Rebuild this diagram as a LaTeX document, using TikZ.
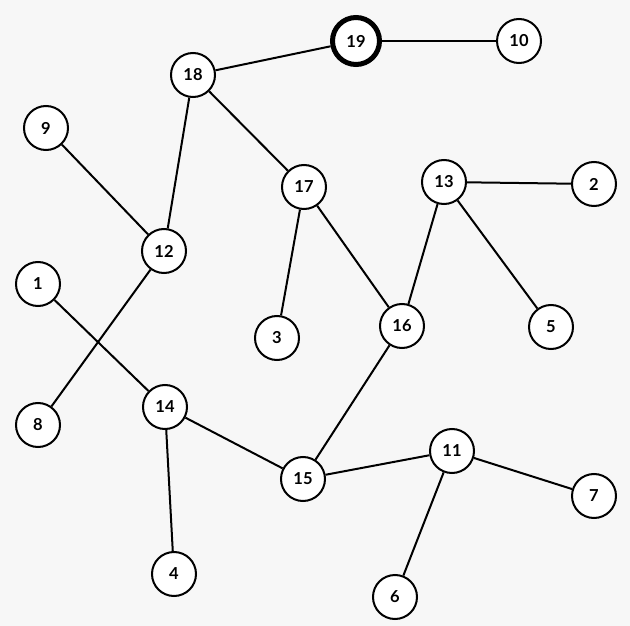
\documentclass[tikz,border=0pt]{standalone}
\usepackage{fontspec}
\setmainfont{Lato}
\begin{document}
\begin{tikzpicture}[x=1pt,y=-1pt,
  vert/.style={circle,draw=black,fill=white,line width=2pt,minimum size=44pt,inner sep=0pt,font=\fontsize{16.5}{16.5}\selectfont\bfseries},
  root/.style={vert,line width=5pt,minimum size=47pt},
  edge/.style={line width=2pt}]
\fill[fill={rgb,255:red,247;green,247;blue,247}] (0,0) rectangle (630,626);
\useasboundingbox (0,0) rectangle (630,626);
\node[root] (n19) at (356,41) {19};
\node[vert] (n10) at (519,41) {10};
\node[vert] (n18) at (193,75) {18};
\node[vert] (n9) at (46,128) {9};
\node[vert] (n17) at (304,187) {17};
\node[vert] (n13) at (444,182) {13};
\node[vert] (n2) at (594,184) {2};
\node[vert] (n12) at (164,251) {12};
\node[vert] (n1) at (38,284) {1};
\node[vert] (n3) at (277,338) {3};
\node[vert] (n16) at (402,326) {16};
\node[vert] (n5) at (551,327) {5};
\node[vert] (n14) at (165,407) {14};
\node[vert] (n8) at (38,425) {8};
\node[vert] (n15) at (303,479) {15};
\node[vert] (n11) at (452,451) {11};
\node[vert] (n7) at (594,496) {7};
\node[vert] (n4) at (174,574) {4};
\node[vert] (n6) at (395,597) {6};
\foreach \a/\b in {19/10,19/18,18/12,18/17,9/12,12/8,1/14,14/4,14/15,15/16,15/11,11/7,11/6,17/3,17/16,16/13,13/2,13/5}
  \draw[edge] (n\a) -- (n\b);
\end{tikzpicture}
\end{document}
